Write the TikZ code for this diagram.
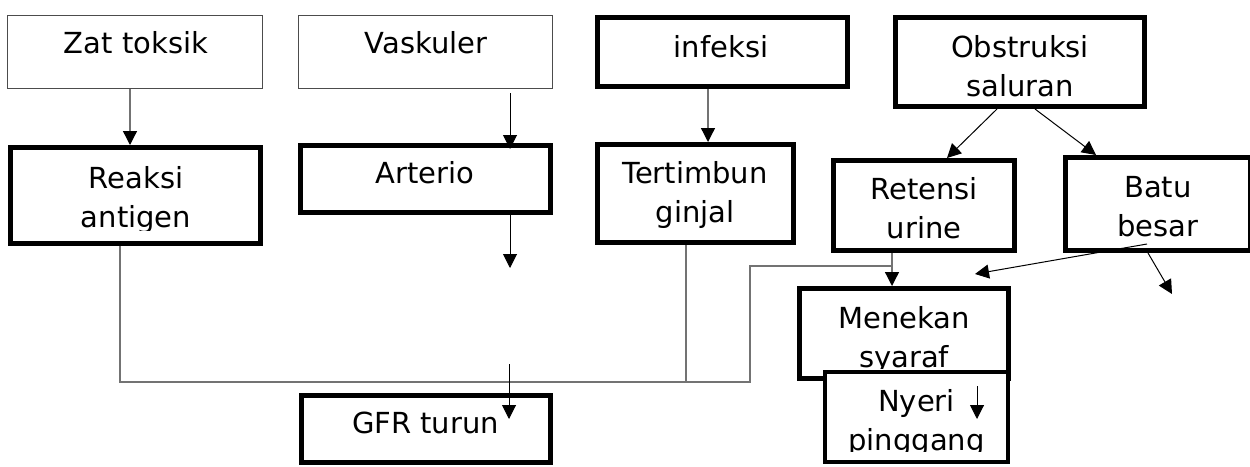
\documentclass[tikz,border=0pt]{standalone}
\usepackage{fontspec}
\setmainfont{DejaVu Sans}
\usetikzlibrary{arrows.meta}

\begin{document}
\begin{tikzpicture}[x=1pt,y=-1pt,
  box/.style={draw=black,line width=5pt,fill=white,inner sep=0pt},
  thinbox/.style={draw=black!70,line width=1pt,fill=white,inner sep=0pt},
  txt/.style={inner sep=0pt,align=center,anchor=base,font=\fontsize{29}{38.5}\selectfont},
  link/.style={draw=black!55,line width=1.3pt},
  arr/.style={line width=1pt,-{Triangle[length=14pt,width=14pt]}},
  garr/.style={link,-{Triangle[length=14pt,width=14pt,color=black]}}]
  \useasboundingbox (0,0) rectangle (1250,466);

  \node[thinbox,minimum width=255pt,minimum height=73pt] (zat) at (135,52) {};
  \node[txt] (zat-t) at (136,53) {Zat toksik};
  \node[thinbox,minimum width=254pt,minimum height=73pt] (vask) at (425.5,52) {};
  \node[txt] (vask-t) at (426,53) {Vaskuler};
  \node[box,minimum width=250pt,minimum height=69pt] (inf) at (722.5,52) {};
  \node[txt] (inf-t) at (721,57) {infeksi};
  \node[box,minimum width=249pt,minimum height=89pt] (obst) at (1020,62) {};
  \begin{scope}
    \clip (obst.north west) rectangle ([yshift=13pt]obst.south east);
    \node[txt] (obst-t) at (1020,96) {Obstruksi\\saluran};
  \end{scope}

  \node[box,minimum width=250pt,minimum height=96pt] (reaksi) at (135.5,195.5) {};
  \begin{scope}
    \clip (reaksi.north west) rectangle ([yshift=16pt]reaksi.south east);
    \node[txt] (reaksi-t) at (136,227) {Reaksi\\antigen};
  \end{scope}
  \node[box,minimum width=250pt,minimum height=67pt] (arterio) at (425.5,179) {};
  \node[txt] (arterio-t) at (425,183) {Arterio};
  \node[box,minimum width=196pt,minimum height=98pt] (tert) at (695.5,193.5) {};
  \node[txt] (tert-t) at (695,222) {Tertimbun\\ginjal};
  \node[box,minimum width=181pt,minimum height=90pt] (retensi) at (924,205.5) {};
  \node[txt] (retensi-t) at (924,238) {Retensi\\urine};
  \node[box,minimum width=185pt,minimum height=93pt] (batu) at (1158,204) {};
  \node[txt] (batu-t) at (1158,236) {Batu\\besar};

  \node[box,minimum width=209pt,minimum height=90pt] (menekan) at (904,333.5) {};
  \begin{scope}
    \clip (menekan.north west) rectangle ([yshift=13pt]menekan.south east);
    \node[txt] (menekan-t) at (904,367) {Menekan\\syaraf};
  \end{scope}
  \node[box,line width=4pt,minimum width=183pt,minimum height=90pt] (nyeri) at (916.5,417) {};
  \begin{scope}
    \clip (nyeri.north west) rectangle ([yshift=13pt]nyeri.south east);
    \node[txt] (nyeri-t) at (916.5,450) {Nyeri\\pinggang};
  \end{scope}
  \node[box,minimum width=249pt,minimum height=67pt] (gfr) at (426,429) {};
  \node[txt] (gfr-t) at (425.5,433) {GFR turun};

  % arrows
  \coordinate (v1) at (510,93);
  \coordinate (v2) at (510,149);
  \coordinate (a1) at (510,268);
  \coordinate (bend) at (750,382);
  \coordinate (join) at (892,266);
  \coordinate (g1) at (509,364);
  \coordinate (g2) at (509,419);
  \coordinate (b1) at (975,274);
  \coordinate (b2) at (1172,294);
  \coordinate (n1) at (977,386);
  \coordinate (n2) at (977,419);

  \draw[garr] ([xshift=-5pt]zat.south) -- ([xshift=-5.5pt]reaksi.north);
  \draw[arr] (v1) -- (v2);
  \draw[arr] ([xshift=84.5pt]arterio.south) -- (a1);
  \draw[garr] ([xshift=-14.5pt]inf.south) -- ([xshift=-14.5pt]inf.south |- tert.north);
  \draw[arr] ([xshift=-23pt]obst.south) -- ([xshift=23pt]retensi.north);
  \draw[arr] ([xshift=15pt]obst.south) -- ([xshift=-62pt]batu.north);
  \draw[link] ([xshift=-15.5pt]reaksi.south) |- (bend) |- (join);
  \draw[link] ([xshift=-9.5pt]tert.south) -- ([xshift=-9.5pt]tert.south |- bend);
  \draw[garr] ([xshift=-32pt]retensi.south) -- ([xshift=-12pt]menekan.north);
  \draw[arr] (g1) -- (g2);
  \draw[arr] ([shift={(-11pt,9pt)}]batu.south) -- (b1);
  \draw[arr] ([xshift=-10pt]batu.south) -- (b2);
  \draw[arr] (n1) -- (n2);
\end{tikzpicture}
\end{document}
